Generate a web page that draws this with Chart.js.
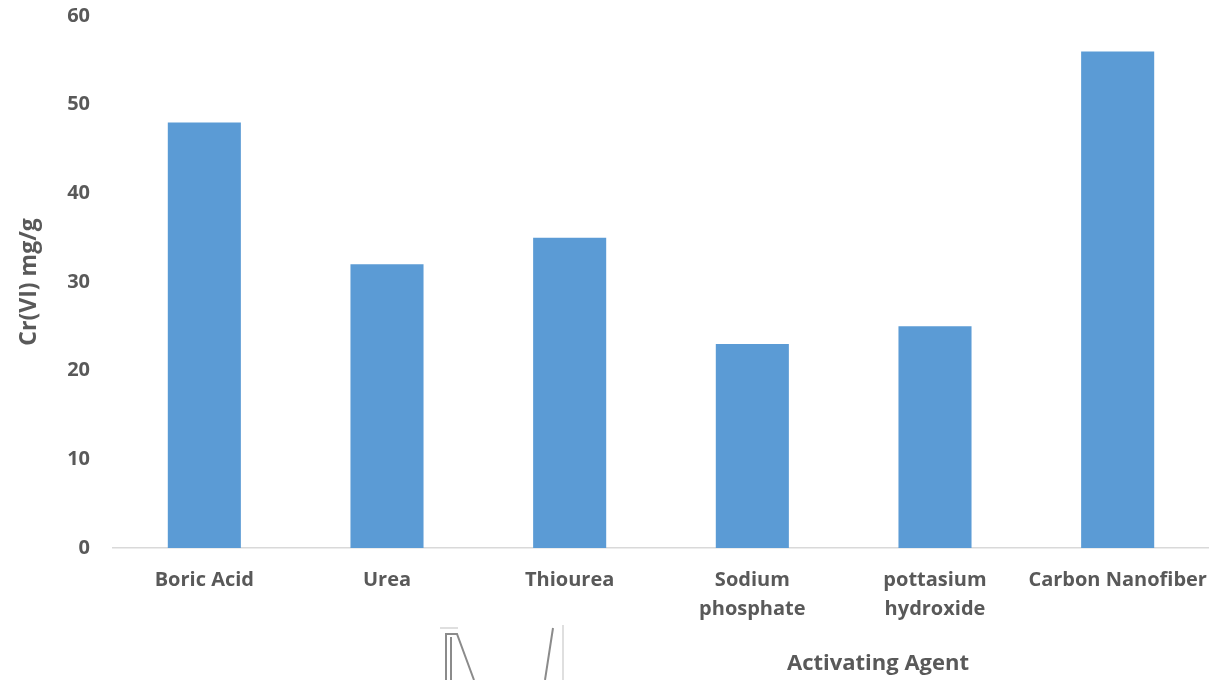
<!DOCTYPE html>
<html>
<head>
<meta charset="utf-8">
<script src="https://cdn.jsdelivr.net/npm/chart.js@4/dist/chart.umd.min.js"></script>
<style>
  html, body { margin: 0; padding: 0; background: #ffffff; }
  #wrap { width: 1209px; height: 680px; position: relative; }
</style>
</head>
<body>
<div id="wrap"><canvas id="c" width="1209" height="680"></canvas></div>
<script>
// Adsorption capacity by activating agent
const categories = [
  ['Boric Acid'],
  ['Urea'],
  ['Thiourea'],
  ['Sodium', 'phosphate'],
  ['pottasium', 'hydroxide'],
  ['Carbon Nanofiber']
];
const capacity = [48, 32, 35, 23, 25, 56];
const yTicks = [0, 10, 20, 30, 40, 50, 60];
const yTitle = 'Cr(VI) mg/g';
const xTitle = 'Activating Agent';

const FONT = '"Open Sans", "Noto Sans", "Liberation Sans", sans-serif';
const TEXT = '#595959';
const SIZE = 20;
const TITLE_SIZE = 22;

// x-axis caption and the small line sketch beneath the axis
const extras = {
  id: 'extras',
  afterDraw(chart) {
    const ctx = chart.ctx;
    const area = chart.chartArea;
    ctx.save();
    ctx.fillStyle = TEXT;
    ctx.font = 'bold ' + TITLE_SIZE + 'px ' + FONT;
    ctx.textAlign = 'center';
    ctx.textBaseline = 'middle';
    ctx.fillText(xTitle, area.left + (area.right - area.left) * 0.698, 664);

    ctx.strokeStyle = 'rgba(90,90,90,0.7)';
    ctx.lineWidth = 2;
    ctx.beginPath();
    ctx.moveTo(446, 680); ctx.lineTo(446, 634); ctx.lineTo(457, 634); ctx.lineTo(474, 680);
    ctx.moveTo(451, 680); ctx.lineTo(451, 637);
    ctx.moveTo(553, 628); ctx.lineTo(545, 680);
    ctx.stroke();
    ctx.strokeStyle = 'rgba(160,160,160,0.45)';
    ctx.lineWidth = 1.5;
    ctx.beginPath();
    ctx.moveTo(563, 625); ctx.lineTo(563, 680);
    ctx.moveTo(440, 628); ctx.lineTo(458, 628);
    ctx.stroke();
    ctx.restore();
  }
};

new Chart(document.getElementById('c'), {
  type: 'bar',
  data: {
    labels: categories,
    datasets: [{
      data: capacity,
      backgroundColor: '#5B9BD5',
      borderWidth: 0,
      categoryPercentage: 1,
      barPercentage: 0.4
    }]
  },
  options: {
    responsive: false,
    animation: false,
    layout: { padding: { top: 16, left: 0, right: 0, bottom: 0 } },
    plugins: { legend: { display: false }, tooltip: { enabled: false } },
    scales: {
      x: {
        offset: true,
        grid: { display: false, drawTicks: false },
        border: { display: true, color: '#D9D9D9', width: 1.5 },
        ticks: {
          color: TEXT,
          font: { family: FONT, size: SIZE, weight: 'bold', lineHeight: 1.45 },
          padding: 18,
          maxRotation: 0,
          autoSkip: false
        },
        afterFit(scale) {
          scale.height = 132;
          scale.paddingLeft = 0;
          scale.paddingRight = 0;
        }
      },
      y: {
        min: 0,
        max: 60,
        afterBuildTicks(scale) { scale.ticks = yTicks.map(v => ({ value: v })); },
        grid: { display: false, drawTicks: false },
        border: { display: false },
        ticks: {
          color: TEXT,
          font: { family: FONT, size: SIZE, weight: 'bold' },
          padding: 23
        },
        title: {
          display: true,
          text: yTitle,
          color: TEXT,
          font: { family: FONT, size: 23, weight: 'bold' },
          padding: { top: 16, bottom: 0 }
        },
        afterFit(scale) {
          scale.width = 113;
          scale.paddingTop = 0;
          scale.paddingBottom = 0;
        }
      }
    }
  },
  plugins: [extras]
});
</script>
</body>
</html>
